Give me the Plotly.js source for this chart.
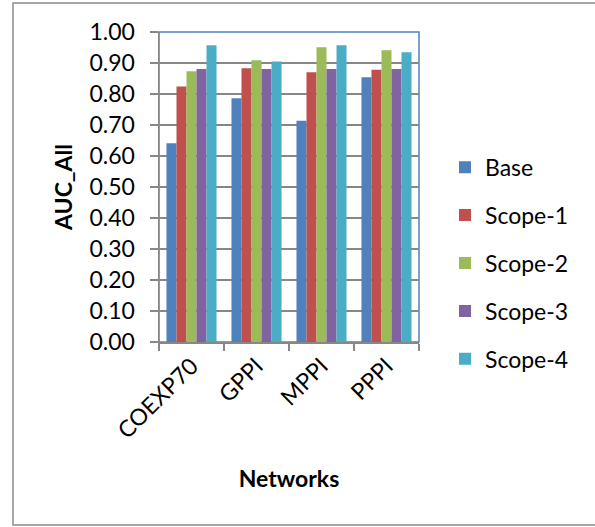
<!DOCTYPE html>
<html>
<head>
<meta charset="utf-8">
<script src="https://cdn.plot.ly/plotly-3.0.1.min.js"></script>
<style>
  html, body { margin: 0; padding: 0; background: #ffffff; }
  #chart { width: 595px; height: 527px; }
</style>
</head>
<body>
<div id="chart"></div>
<script>
// AUC_All per network for the base model and four scope settings
const networks = ["COEXP70", "GPPI", "MPPI", "PPPI"];
const seriesNames = ["Base", "Scope-1", "Scope-2", "Scope-3", "Scope-4"];
const base   = [0.641, 0.786, 0.714, 0.854];
const scope1 = [0.824, 0.883, 0.870, 0.878];
const scope2 = [0.873, 0.909, 0.951, 0.941];
const scope3 = [0.881, 0.881, 0.881, 0.881];
const scope4 = [0.957, 0.905, 0.957, 0.935];
const yTickValues = [0, 0.1, 0.2, 0.3, 0.4, 0.5, 0.6, 0.7, 0.8, 0.9, 1.0];
const yTickLabels = ["0.00", "0.10", "0.20", "0.30", "0.40", "0.50", "0.60", "0.70", "0.80", "0.90", "1.00"];

const seriesValues = [base, scope1, scope2, scope3, scope4];
const colors = ["#4F81BD", "#C0504D", "#9BBB59", "#8064A2", "#4BACC6"];

const FONT = "Lato, 'Open Sans', sans-serif";
const GRID = "#878787";

const traces = seriesNames.map((name, i) => ({
  type: "bar",
  name: name,
  x: networks,
  y: seriesValues[i],
  legendgroup: name,
  marker: { color: colors[i], line: { width: 0 } },
  hoverinfo: "x+y+name"
}));

const layout = {
  width: 595,
  height: 527,
  margin: { l: 159, r: 176, t: 32, b: 185, pad: 0 },
  paper_bgcolor: "#ffffff",
  plot_bgcolor: "#ffffff",
  font: { family: FONT, size: 23, color: "#000000" },
  barmode: "group",
  bargap: 0.23,
  bargroupgap: 0,
  showlegend: true,
  legend: {
    x: 1.10, xanchor: "left",
    y: 0.633, yanchor: "top",
    traceorder: "grouped",
    tracegroupgap: 15,
    font: { family: FONT, size: 23, color: "#000000" },
    bgcolor: "rgba(0,0,0,0)"
  },
  xaxis: {
    type: "category",
    showline: true, linecolor: GRID, linewidth: 1.5,
    ticks: "outside", ticklen: 7, tickcolor: GRID, tickwidth: 1.5,
    tickson: "boundaries",
    tickangle: -45,
    showgrid: false, zeroline: false,
    tickfont: { family: FONT, size: 23, color: "#000000" },
    automargin: false,
    title: { text: "<b>Networks</b>", font: { family: FONT, size: 23, color: "#000000" }, standoff: 28 }
  },
  yaxis: {
    range: [0, 1.0],
    tickvals: yTickValues,
    ticktext: yTickLabels,
    showline: true, linecolor: GRID, linewidth: 1.5,
    ticks: "outside", ticklen: 8, tickcolor: GRID, tickwidth: 1.5,
    ticklabelstandoff: 10,
    showgrid: true, gridcolor: GRID, gridwidth: 1.5,
    zeroline: false,
    tickfont: { family: FONT, size: 23, color: "#000000" },
    automargin: false,
    title: { text: "<b>AUC_All</b>", font: { family: FONT, size: 23, color: "#000000" }, standoff: 10 }
  },
  shapes: [
    // plot area frame
    { type: "rect", xref: "paper", yref: "paper", x0: 0, x1: 1, y0: 0, y1: 1,
      line: { color: "#4F81BD", width: 1.5 }, layer: "below" },
    // chart area frame, open on the right edge of the page
    { type: "rect", xref: "paper", yref: "paper",
      x0: (13 - 159) / 260, x1: (640 - 159) / 260,
      y0: (342 - 525) / 310, y1: (342 - 3) / 310,
      line: { color: "#8c8c8c", width: 1.5 }, layer: "below" }
  ]
};

Plotly.newPlot("chart", traces, layout, { displayModeBar: false, staticPlot: true });
</script>
</body>
</html>
